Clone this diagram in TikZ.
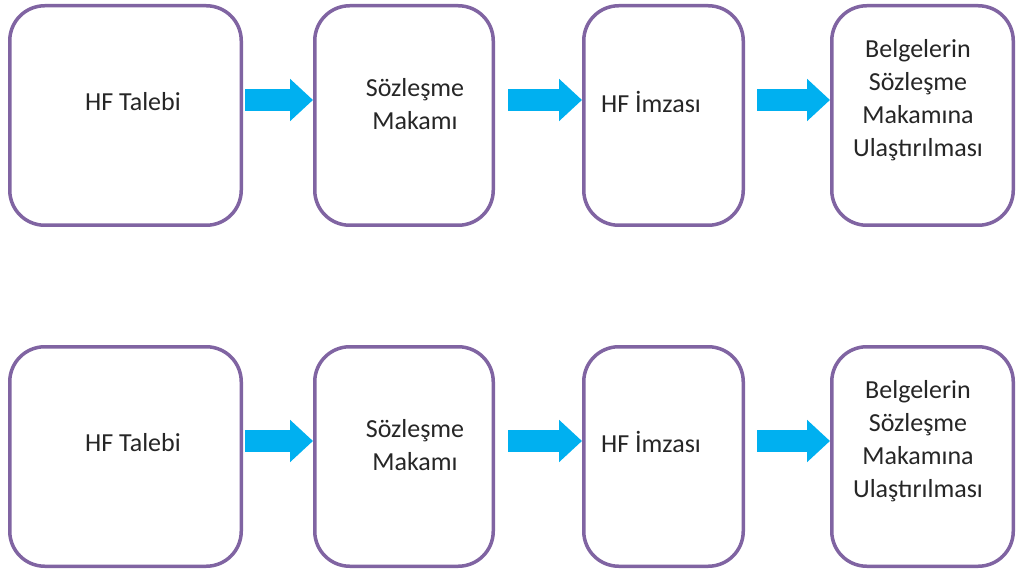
\documentclass[tikz,border=0pt]{standalone}
\usepackage{fontspec}
\setmainfont{Carlito}
\usetikzlibrary{arrows.meta, calc}
\definecolor{boxpurple}{RGB}{128,100,162}
\definecolor{flowcyan}{RGB}{0,176,240}

\begin{document}
\begin{tikzpicture}[x=1pt, y=-1pt,
  flowbox/.style={draw=boxpurple, line width=3.5pt, rounded corners=35pt, fill=white, minimum height=219.5pt},
  boxtext/.style={align=center, font=\fontsize{26}{33}\selectfont, text=black!85},
  flowarrow/.style={line width=22pt, draw=flowcyan, -{Triangle[width=41pt, length=23pt]}}]
\useasboundingbox (0,0) rectangle (1019,577);
% Top row
\node[flowbox, minimum width=231.5pt] (a1) at (125.5,115.5) {};
\node[flowbox, minimum width=178.5pt] (a2) at (404,115.5) {};
\node[flowbox, minimum width=159.5pt] (a3) at (663.5,115.5) {};
\node[flowbox, minimum width=181.5pt] (a4) at (922.5,115.5) {};
\node[boxtext] (a1t) at (133,102) {HF Talebi};
\node[boxtext] (a2t) at (415,104.5) {Sözleşme\\Makamı};
\node[boxtext] (a3t) at (651,102) {HF İmzası};
\node[boxtext] (a4t) at (918,100) {Belgelerin\\Sözleşme\\Makamına\\Ulaştırılması};

\draw[flowarrow] ($(a1.east)+(2,-15.5)$) -- ($(a2.west)+(0,-15.5)$);
\draw[flowarrow] ($(a2.east)+(13,-15.5)$) -- ($(a3.west)+(0,-15.5)$);
\draw[flowarrow] ($(a3.east)+(12,-15.5)$) -- ($(a4.west)+(0,-15.5)$);

% Bottom row
\node[flowbox, minimum width=231.5pt] (b1) at (125.5,456.5) {};
\node[flowbox, minimum width=178.5pt] (b2) at (404,456.5) {};
\node[flowbox, minimum width=159.5pt] (b3) at (663.5,456.5) {};
\node[flowbox, minimum width=181.5pt] (b4) at (922.5,456.5) {};
\node[boxtext] (b1t) at (133,443) {HF Talebi};
\node[boxtext] (b2t) at (415,445) {Sözleşme\\Makamı};
\node[boxtext] (b3t) at (651,442) {HF İmzası};
\node[boxtext] (b4t) at (918,441) {Belgelerin\\Sözleşme\\Makamına\\Ulaştırılması};

\draw[flowarrow] ($(b1.east)+(2,-15.5)$) -- ($(b2.west)+(0,-15.5)$);
\draw[flowarrow] ($(b2.east)+(13,-15.5)$) -- ($(b3.west)+(0,-15.5)$);
\draw[flowarrow] ($(b3.east)+(12,-15.5)$) -- ($(b4.west)+(0,-15.5)$);
\end{tikzpicture}
\end{document}
